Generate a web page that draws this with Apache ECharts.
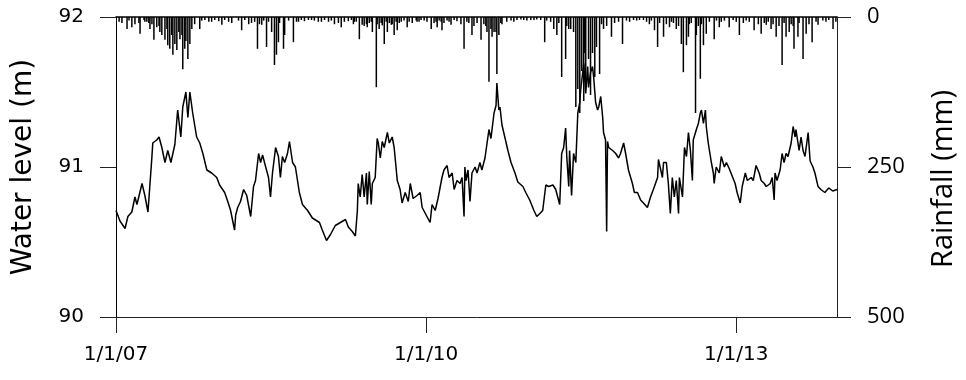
<!DOCTYPE html>
<html><head><meta charset="utf-8">
<script src="https://cdn.jsdelivr.net/npm/echarts@6/dist/echarts.min.js"></script>
<style>html,body{margin:0;padding:0;background:#fff}#c{width:966px;height:380px}</style>
</head><body><div id="c"></div>
<script>
// x values are days since 1 Jan 2007
const startUTC = Date.UTC(2007, 0, 1);
const endDay = 2548;
const xTickDays = [0, 1096, 2192];          // 1/1/07, 1/1/10, 1/1/13
const levelTicks = [90, 91, 92];
const rainTicks = [0, 250, 500];

const levelDay = [0,14,32,42,56,67,74,92,102,113,127,130,144,152,162,173,183,194,208,218,229,236,247,254,261,271,285,296,307,321,338,356,366,384,395,405,419,423,430,440,451,462,472,476,486,493,504,511,518,529,539,546,553,564,574,581,588,596,606,613,624,634,648,659,677,694,719,729,744,758,775,793,811,821,835,846,853,856,863,870,877,885,888,895,902,906,916,923,927,934,941,948,959,966,976,983,994,1004,1011,1022,1033,1040,1050,1064,1075,1082,1096,1110,1117,1128,1138,1152,1159,1170,1177,1188,1195,1205,1216,1223,1230,1233,1237,1244,1251,1258,1269,1276,1286,1293,1304,1311,1318,1325,1336,1343,1346,1353,1357,1364,1374,1385,1396,1410,1420,1438,1448,1462,1477,1487,1498,1508,1519,1529,1544,1554,1568,1575,1582,1589,1593,1600,1603,1610,1617,1625,1632,1639,1642,1653,1660,1667,1670,1677,1684,1688,1695,1702,1706,1713,1720,1723,1730,1734,1737,1741,1755,1766,1776,1783,1794,1801,1811,1825,1832,1843,1854,1864,1878,1889,1899,1914,1917,1924,1931,1935,1945,1952,1959,1966,1973,1980,1988,1991,2002,2009,2016,2023,2030,2037,2040,2051,2058,2065,2069,2076,2083,2086,2093,2104,2111,2114,2121,2132,2139,2150,2157,2167,2174,2188,2195,2206,2213,2224,2231,2245,2252,2262,2273,2280,2291,2298,2312,2319,2326,2329,2336,2347,2354,2361,2368,2375,2386,2393,2400,2403,2414,2421,2428,2435,2446,2453,2463,2470,2481,2491,2505,2519,2533,2548];
const levelM = [90.71,90.64,90.59,90.67,90.70,90.80,90.75,90.89,90.81,90.70,91.07,91.16,91.18,91.20,91.13,91.03,91.11,91.03,91.15,91.38,91.20,91.40,91.50,91.33,91.50,91.36,91.20,91.16,91.09,90.98,90.96,90.93,90.88,90.83,90.77,90.71,90.58,90.68,90.73,90.77,90.85,90.81,90.71,90.67,90.87,90.91,91.09,91.03,91.08,91.00,90.93,90.80,90.96,91.13,91.07,90.93,91.07,91.03,91.09,91.17,91.03,91.00,90.83,90.75,90.71,90.66,90.63,90.58,90.51,90.55,90.61,90.63,90.65,90.60,90.57,90.54,90.71,90.89,90.80,90.95,90.80,90.96,90.75,90.97,90.75,90.89,90.93,91.19,91.16,91.06,91.17,91.13,91.23,91.16,91.20,91.13,90.91,90.85,90.76,90.83,90.77,90.89,90.79,90.81,90.83,90.73,90.68,90.63,90.75,90.71,90.79,90.93,90.98,91.01,90.93,90.96,90.85,90.91,90.89,90.93,90.67,91.00,90.91,90.98,90.77,90.96,91.00,90.96,91.03,90.98,91.06,91.07,91.25,91.19,91.36,91.41,91.56,91.38,91.40,91.28,91.20,91.11,91.03,90.96,90.90,90.87,90.83,90.78,90.71,90.67,90.69,90.71,90.88,90.87,90.88,90.85,90.75,91.09,91.13,91.26,91.07,90.87,91.11,90.81,91.09,91.03,91.36,91.43,91.51,91.69,91.49,91.67,91.53,91.63,91.67,91.60,91.43,91.38,91.40,91.47,91.33,91.23,91.18,90.57,91.17,91.13,91.11,91.09,91.06,91.09,91.16,91.09,90.98,90.89,90.83,90.83,90.78,90.76,90.73,90.80,90.85,90.93,91.05,90.99,90.93,91.03,91.03,90.89,90.69,90.93,90.80,90.91,90.69,90.93,90.80,91.13,91.07,91.23,91.11,90.91,91.18,91.25,91.29,91.36,91.38,91.29,91.38,91.27,91.16,91.03,90.96,90.89,91.00,90.96,91.07,91.00,91.03,90.99,91.00,90.89,90.83,90.76,90.87,90.96,90.91,90.93,90.91,91.01,90.96,90.91,90.89,90.87,90.89,90.93,90.78,90.96,90.91,90.98,91.09,91.03,91.09,91.07,91.16,91.27,91.20,91.25,91.11,91.20,91.11,91.07,91.23,91.04,91.00,90.96,90.87,90.85,90.83,90.86,90.84,90.85];

// larger daily rainfall events
const rainDay = [39,56,85,102,120,134,144,155,162,173,180,183,190,197,201,208,215,222,226,233,236,243,247,254,261,268,278,296,328,374,444,469,500,515,532,550,560,567,574,592,596,627,645,680,715,751,772,796,807,839,860,870,888,906,920,930,948,959,973,983,994,1029,1064,1114,1135,1152,1184,1230,1258,1290,1311,1318,1329,1336,1346,1353,1406,1466,1515,1547,1558,1575,1589,1607,1625,1632,1639,1646,1653,1656,1660,1670,1677,1684,1692,1698,1709,1723,1751,1790,1815,1850,1885,1903,1914,1935,1956,1980,1998,2005,2016,2023,2048,2051,2065,2076,2086,2114,2132,2167,2203,2255,2280,2298,2315,2333,2354,2368,2379,2396,2410,2428,2439,2460,2481,2509,2534];
const rainMm = [20,17,28,8,20,38,17,25,30,38,20,47,53,30,63,45,55,25,37,30,87,53,40,70,45,20,12,20,8,13,22,12,53,13,50,25,80,63,42,53,30,42,8,5,8,8,12,17,8,12,37,13,17,25,117,20,45,25,13,30,22,17,8,20,17,22,13,53,30,38,25,108,33,25,95,30,8,5,42,20,30,100,70,20,150,120,160,90,140,60,110,70,130,60,100,50,95,20,33,45,8,5,12,22,50,33,17,20,45,92,47,33,160,30,103,47,28,37,17,17,30,22,28,13,20,33,80,33,25,53,33,70,28,42,13,8,20];

// small daily rainfall (the dense fringe along the top)
const lightRainDay = [11,21,46,67,81,99,109,116,127,152,303,314,338,349,363,384,398,409,433,455,479,490,507,522,539,578,610,638,655,666,691,701,726,737,761,786,821,832,842,
  849,877,885,895,902,923,937,941,955,966,976,990,1001,1008,1018,1036,1047,1061,1071,1078,1089,1099,1124,1131,1142,1149,1159,1170,1177,1195,1205,1219,1240,1247,1265,1276,1300,1307,1325,1343,1360,1364,1381,1396,1417,1431,1441,1452,1477,1487,1501,1522,1536,1565,1593,1600,1617,
  1716,1734,1762,1776,1804,1829,1840,1864,1875,1892,1921,1945,1963,1970,1988,2026,2033,2058,2069,2097,2122,2139,2150,2181,2192,2217,2227,2238,2270,2291,2305,2322,2343,2361,2386,2393,2414,2449,2474,2498,2519,2544];
const lightRainMm = [8,10,6,12,10,5,8,10,12,15,6,5,8,5,7,5,8,10,6,5,10,8,12,6,8,10,6,8,5,7,5,6,8,5,6,10,7,5,8,
  8,15,12,10,8,12,10,14,8,10,12,8,10,8,6,8,10,6,8,5,6,8,10,8,6,8,10,6,8,5,7,12,8,10,15,10,12,15,20,25,10,12,8,6,5,4,5,6,5,4,5,6,8,10,15,20,25,
  12,15,10,8,6,5,6,5,8,6,10,12,8,10,15,12,10,15,12,8,6,8,6,5,8,10,6,8,12,10,8,12,15,10,12,15,10,12,8,6,5,8];

function fmtDate(v) {
  const d = new Date(startUTC + v * 86400000);
  return (d.getUTCMonth() + 1) + '/' + d.getUTCDate() + '/' + String(d.getUTCFullYear()).slice(2);
}

const rainData = rainDay.map((d, i) => [d, rainMm[i]])
  .concat(lightRainDay.map((d, i) => [d, lightRainMm[i]]))
  .sort((a, b) => a[0] - b[0]);

const chart = echarts.init(document.getElementById('c'), null, {renderer: 'canvas'});
const axisCol = '#222';
chart.setOption({
  animation: false,
  backgroundColor: '#fff',
  grid: {left: 116, right: 127, top: 17, bottom: 63, containLabel: false},
  xAxis: [{
    type: 'value', min: 0, max: endDay, position: 'bottom',
    axisLine: {show: true, onZero: false, lineStyle: {color: axisCol, width: 1}},
    axisTick: {show: true, customValues: xTickDays, length: 16, lineStyle: {color: axisCol}},
    axisLabel: {customValues: xTickDays, formatter: fmtDate, fontFamily: 'DejaVu Sans', fontSize: 20, color: '#000', margin: 28},
    splitLine: {show: false}
  }, {
    type: 'value', min: 0, max: endDay, position: 'top',
    axisLine: {show: true, onZero: false, lineStyle: {color: '#000', width: 1.5}},
    axisTick: {show: false}, axisLabel: {show: false}, splitLine: {show: false}
  }],
  yAxis: [{
    type: 'value', min: levelTicks[0], max: levelTicks[2], interval: 1, position: 'left',
    name: 'Water level (m)', nameLocation: 'middle', nameGap: 78,
    nameTextStyle: {fontFamily: 'DejaVu Sans', fontSize: 28, color: '#000'},
    axisLine: {show: true, onZero: false, lineStyle: {color: '#000', width: 1}},
    axisTick: {show: true, length: 16, lineStyle: {color: axisCol}},
    axisLabel: {fontFamily: 'DejaVu Sans', fontSize: 20, color: '#000', margin: 32},
    splitLine: {show: false}
  }, {
    type: 'value', min: rainTicks[0], max: rainTicks[2], interval: 250, inverse: true, position: 'right',
    name: 'Rainfall (mm)', nameLocation: 'middle', nameRotate: 90, nameGap: 92,
    nameTextStyle: {fontFamily: 'Open Sans', fontSize: 29, color: '#000', padding: [0, 24, 0, 0]},
    axisLine: {show: true, onZero: false, lineStyle: {color: axisCol, width: 1}},
    axisTick: {show: true, length: 14, lineStyle: {color: axisCol}},
    axisLabel: {fontFamily: 'Open Sans', fontSize: 22, color: '#000', margin: 30},
    splitLine: {show: false}
  }],
  series: [{
    type: 'bar', name: 'Rainfall', xAxisIndex: 0, yAxisIndex: 1,
    barWidth: 1.5, itemStyle: {color: '#000'},
    data: rainData
  }, {
    type: 'line', name: 'Water level', xAxisIndex: 0, yAxisIndex: 0,
    symbol: 'none', lineStyle: {color: '#000', width: 1.5},
    data: levelDay.map((d, i) => [d, levelM[i]])
  }]
});
</script></body></html>
